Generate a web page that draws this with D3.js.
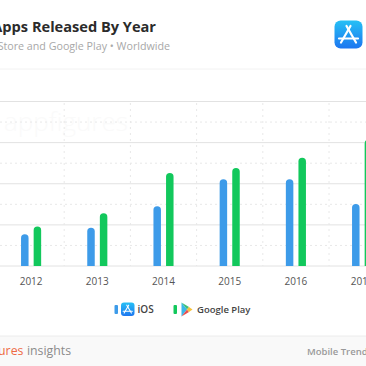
<!DOCTYPE html>
<html>
<head>
<meta charset="utf-8">
<script src="https://cdn.jsdelivr.net/npm/d3@7"></script>
<style>
html, body { margin: 0; padding: 0; background: #fff; overflow: hidden; }
svg { display: block; font-family: "Open Sans", sans-serif; }
</style>
</head>
<body>
<div id="chart"></div>
<script>
// values (the axis labels are cropped, so units are relative)
const years = ["2012", "2013", "2014", "2015", "2016", "2017"];
const series = ["iOS", "Google Play"];
const iosValues = [77, 93, 145, 211, 211, 151];
const playValues = [96, 128, 226, 238, 263, 307];
const gridTicks = [0, 50, 100, 150, 200, 250, 300, 350, 400];

const width = 366, height = 366;
const colors = { "iOS": "#3d9be9", "Google Play": "#12c85c" };

const svg = d3.select("#chart").append("svg")
    .attr("width", width)
    .attr("height", height);

const x0 = d3.scaleBand().domain(years).range([-2, 395.2]);
const x1 = d3.scaleBand().domain(series).range([-10.05, 10.05]).paddingInner(0.405);
const y = d3.scaleLinear().domain([0, 400]).range([266, 101.5]);

// header
svg.append("text")
    .attr("x", 156).attr("y", 32)
    .attr("text-anchor", "end")
    .style("font-size", "14.6px")
    .style("font-weight", "700")
    .attr("fill", "#2b2b2b")
    .text("Apps Released By Year");

svg.append("text")
    .attr("x", 170).attr("y", 50)
    .attr("text-anchor", "end")
    .style("font-size", "10.7px")
    .attr("fill", "#a8a8a8")
    .text("App Store and Google Play • Worldwide");

svg.append("line")
    .attr("x1", 0).attr("x2", width)
    .attr("y1", 69).attr("y2", 69)
    .attr("stroke", "#f2f2f2")
    .attr("stroke-width", 1);

// app store icon
function appIcon(g, s) {
    const defsId = "blue" + s;
    const grad = svg.append("defs").append("linearGradient")
        .attr("id", defsId).attr("x1", 0).attr("y1", 0).attr("x2", 0).attr("y2", 1);
    grad.append("stop").attr("offset", "0%").attr("stop-color", "#26c0f5");
    grad.append("stop").attr("offset", "100%").attr("stop-color", "#1d76f0");
    g.append("rect")
        .attr("width", s).attr("height", s)
        .attr("rx", s * 0.22)
        .attr("fill", `url(#${defsId})`);
    const k = s / 28;
    const a = g.append("g")
        .attr("fill", "none")
        .attr("stroke", "#fff")
        .attr("stroke-width", 2.2 * k)
        .attr("stroke-linecap", "round");
    a.append("path").attr("d", `M${12 * k} ${5.5 * k} L${21.5 * k} ${22 * k}`);
    a.append("path").attr("d", `M${16 * k} ${5.5 * k} L${6.5 * k} ${22 * k}`);
    a.append("path").attr("d", `M${4.5 * k} ${18 * k} L${23.5 * k} ${18 * k}`);
}
appIcon(svg.append("g").attr("transform", "translate(334.5,20.5)"), 28);

// watermark
svg.append("text")
    .attr("x", 4).attr("y", 131)
    .style("font-size", "26px")
    .style("font-weight", "300")
    .attr("fill", "#fafafa")
    .text("appfigures");

// grid
svg.append("g").selectAll("line")
    .data(gridTicks)
    .enter()
    .append("line")
    .attr("x1", 0).attr("x2", width)
    .attr("y1", d => y(d)).attr("y2", d => y(d))
    .attr("stroke", d => d % 100 === 0 ? "#e2e2e2" : "#e8e8e8")
    .attr("stroke-dasharray", d => d % 100 === 0 ? null : "2,3");

svg.append("g").selectAll("line")
    .data(years)
    .enter()
    .append("line")
    .attr("x1", d => x0(d)).attr("x2", d => x0(d))
    .attr("y1", 103).attr("y2", 266)
    .attr("stroke", "#e8e8e8")
    .attr("stroke-dasharray", "2,4");

svg.append("line")
    .attr("x1", x0.range()[1]).attr("x2", x0.range()[1])
    .attr("y1", 103).attr("y2", 266)
    .attr("stroke", "#e8e8e8")
    .attr("stroke-dasharray", "2,4");

// x axis
const axis = svg.append("g")
    .attr("transform", "translate(0,266)")
    .call(d3.axisBottom(x0).tickSize(0).tickPadding(12));
axis.select(".domain").remove();
axis.selectAll("text")
    .style("font-family", "'Open Sans', sans-serif")
    .style("font-size", "10px")
    .attr("fill", "#555");

// bars, tops rounded
function barPath(cx, w, top) {
    const r = w / 2;
    return `M${cx - r} ${y(0)} L${cx - r} ${top + r} A${r} ${r} 0 0 1 ${cx + r} ${top + r} L${cx + r} ${y(0)} Z`;
}

const rows = years.map((d, i) => ({ year: d, "iOS": iosValues[i], "Google Play": playValues[i] }));
series.forEach(s => {
    svg.append("g").selectAll("path")
        .data(rows)
        .enter()
        .append("path")
        .attr("d", d => barPath(x0(d.year) + x0.bandwidth() / 2 + x1(s) + x1.bandwidth() / 2, x1.bandwidth(), y(d[s])))
        .attr("fill", colors[s]);
});

// legend
const legend = svg.append("g");
legend.append("rect")
    .attr("x", 114.5).attr("y", 305).attr("width", 3.5).attr("height", 9)
    .attr("rx", 1)
    .attr("fill", colors["iOS"]);
appIcon(legend.append("g").attr("transform", "translate(121,302.5)"), 13.5);
legend.append("text")
    .attr("x", 137.5).attr("y", 313.2)
    .style("font-size", "10px")
    .style("font-weight", "600")
    .attr("fill", "#444")
    .text(series[0]);

legend.append("rect")
    .attr("x", 173.5).attr("y", 305).attr("width", 3.5).attr("height", 9)
    .attr("rx", 1)
    .attr("fill", colors["Google Play"]);
const play = legend.append("g").attr("transform", "translate(181.5,302.5)");
play.append("path").attr("d", "M0 0 L5.5 7 L0 14 Z").attr("fill", "#3bb8e8");
play.append("path").attr("d", "M0 0 L7.5 4.5 L5.5 7 Z").attr("fill", "#3fc07a");
play.append("path").attr("d", "M0 14 L7.5 9.5 L5.5 7 Z").attr("fill", "#ea4d4d");
play.append("path").attr("d", "M7.5 4.5 L11 7 L7.5 9.5 L5.5 7 Z").attr("fill", "#f7c23c");
legend.append("text")
    .attr("x", 197).attr("y", 313.2)
    .style("font-size", "9.5px")
    .style("font-weight", "600")
    .attr("fill", "#444")
    .text(series[1]);

// footer
svg.append("rect")
    .attr("x", 0).attr("y", 336).attr("width", width).attr("height", 30)
    .attr("fill", "#f9f9f9");
svg.append("line")
    .attr("x1", 0).attr("x2", width)
    .attr("y1", 336).attr("y2", 336)
    .attr("stroke", "#ececec");

const brand = svg.append("text")
    .attr("x", 71).attr("y", 355)
    .attr("text-anchor", "end")
    .style("font-size", "12.3px");
brand.append("tspan").attr("fill", "#ee6a44").text("appfigures");
brand.append("tspan").attr("fill", "#8b8b8b").attr("dx", 3.5).text("insights");

svg.append("text")
    .attr("x", 307).attr("y", 355)
    .style("font-size", "9.5px")
    .style("font-weight", "600")
    .attr("fill", "#999")
    .text("Mobile Trends Report");
</script>
</body>
</html>
